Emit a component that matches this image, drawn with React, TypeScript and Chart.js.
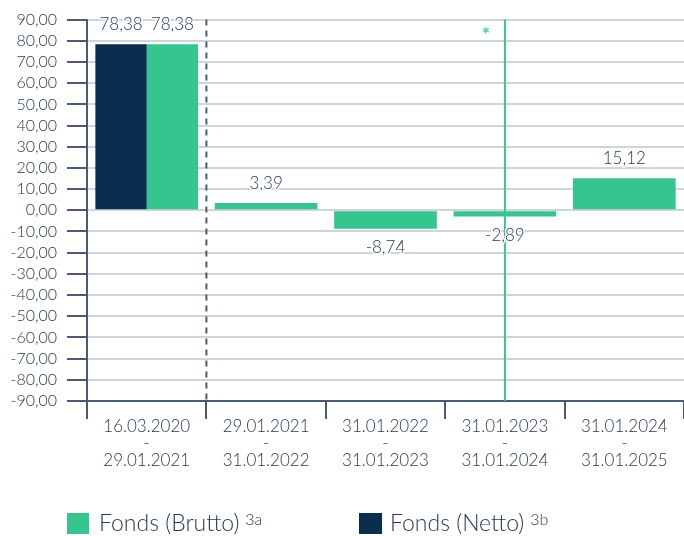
import React, { useEffect, useRef } from "react";
import { Chart, registerables } from "chart.js";

Chart.register(...registerables);

const categories: string[][] = [
  ["16.03.2020", "-", "29.01.2021"],
  ["29.01.2021", "-", "31.01.2022"],
  ["31.01.2022", "-", "31.01.2023"],
  ["31.01.2023", "-", "31.01.2024"],
  ["31.01.2024", "-", "31.01.2025"],
];
const bruttoValues: (number | null)[] = [78.38, 3.39, -8.74, -2.89, 15.12];
const nettoValues: (number | null)[] = [78.38, null, null, null, null];
const bruttoLabel = "Fonds (Brutto)";
const bruttoSup = "3a";
const nettoLabel = "Fonds (Netto)";
const nettoSup = "3b";
const yMin = -90;
const yMax = 90;
const yStep = 10;
const dividerAfterIndex = 0;
const markerIndex = 3;
const markerText = "*";

const GREEN = "#36c48f";
const NAVY = "#0b2d4e";
const TEXT = "#263955";
const AXIS = "#4b5b73";
const GRID = "#cfd5dc";
const FONT = "Lato, 'Open Sans', sans-serif";
const WEIGHT = "300";

const CANVAS_W = 684;
const CANVAS_H = 500;

const fmt = (v: number) => v.toFixed(2).replace(".", ",");

const overlayPlugin = {
  id: "overlay",
  afterDatasetsDraw(chart: any) {
    const { ctx, chartArea, scales } = chart;
    const xs = scales.x;
    ctx.save();
    const xd = (xs.getPixelForValue(dividerAfterIndex) + xs.getPixelForValue(dividerAfterIndex + 1)) / 2;
    ctx.strokeStyle = AXIS;
    ctx.lineWidth = 2;
    ctx.setLineDash([6, 5]);
    ctx.beginPath();
    ctx.moveTo(xd, chartArea.top);
    ctx.lineTo(xd, chartArea.bottom);
    ctx.stroke();
    ctx.setLineDash([]);
    const xm = xs.getPixelForValue(markerIndex);
    ctx.strokeStyle = GREEN;
    ctx.lineWidth = 2;
    ctx.beginPath();
    ctx.moveTo(xm, chartArea.top);
    ctx.lineTo(xm, chartArea.bottom);
    ctx.stroke();
    ctx.fillStyle = GREEN;
    ctx.font = `22px ${FONT}`;
    ctx.textAlign = "center";
    ctx.textBaseline = "middle";
    ctx.fillText(markerText, xm - 19, chartArea.top + 16);

    ctx.font = `${WEIGHT} 17px ${FONT}`;
    ctx.lineJoin = "round";
    chart.data.datasets.forEach((ds: any, di: number) => {
      const meta = chart.getDatasetMeta(di);
      meta.data.forEach((el: any, i: number) => {
        const v = ds.data[i];
        if (v === null || v === undefined) return;
        const y = v >= 0 ? el.y - 20 : el.y + 19;
        const t = fmt(v);
        ctx.strokeStyle = "#ffffff";
        ctx.lineWidth = 3;
        ctx.strokeText(t, el.x, y);
        ctx.fillStyle = TEXT;
        ctx.fillText(t, el.x, y);
      });
    });
    ctx.restore();
  },
};

export default function App() {
  const ref = useRef<HTMLCanvasElement | null>(null);

  useEffect(() => {
    if (!ref.current) return;
    const chart = new Chart(ref.current, {
      type: "bar",
      data: {
        labels: categories,
        datasets: [
          {
            label: nettoLabel,
            data: nettoValues,
            backgroundColor: NAVY,
            skipNull: true,
            categoryPercentage: 0.86,
            barPercentage: 1,
          } as any,
          {
            label: bruttoLabel,
            data: bruttoValues,
            backgroundColor: GREEN,
            skipNull: true,
            categoryPercentage: 0.86,
            barPercentage: 1,
          } as any,
        ],
      },
      options: {
        responsive: false,
        animation: false,
        layout: { padding: { top: 17, right: 0, left: 0, bottom: 0 } },
        plugins: {
          legend: { display: false },
          tooltip: { enabled: false },
        },
        scales: {
          x: {
            offset: true,
            grid: {
              offset: true,
              drawOnChartArea: false,
              drawTicks: true,
              tickLength: 18,
              tickColor: AXIS,
              lineWidth: 2,
              color: AXIS,
            },
            border: { display: true, color: AXIS, width: 2 },
            ticks: {
              color: TEXT,
              font: { family: FONT, size: 17, weight: WEIGHT, lineHeight: 1.0 },
              padding: -1,
              maxRotation: 0,
              autoSkip: false,
            },
            afterFit: (s: any) => {
              s.height = CANVAS_H - 401;
            },
          },
          y: {
            min: yMin,
            max: yMax,
            grid: {
              color: GRID,
              lineWidth: 2,
              tickLength: 20,
              tickColor: AXIS,
            },
            border: { display: true, color: AXIS, width: 2 },
            ticks: {
              stepSize: yStep,
              autoSkip: false,
              color: TEXT,
              font: { family: FONT, size: 16, weight: WEIGHT },
              padding: 10,
              callback: (v: any) => fmt(Number(v)),
            },
            afterFit: (s: any) => {
              s.width = 87;
            },
          },
        },
      } as any,
      plugins: [overlayPlugin],
    });
    return () => chart.destroy();
  }, []);

  const legendText: React.CSSProperties = {
    position: "absolute",
    top: 508,
    fontFamily: FONT,
    fontWeight: 300,
    fontSize: 23,
    color: TEXT,
    lineHeight: "29px",
    whiteSpace: "nowrap",
  };
  const sup: React.CSSProperties = { fontSize: 16, verticalAlign: "top", position: "relative", top: -4, marginLeft: 6 };

  return (
    <div style={{ position: "fixed", left: 0, top: 0, width: CANVAS_W, height: 536, background: "#fff" }}>
      <canvas ref={ref} width={CANVAS_W} height={CANVAS_H} style={{ position: "absolute", left: 0, top: 0 }} />
      <div style={{ position: "absolute", left: 67, top: 513, width: 22, height: 21, background: GREEN }} />
      <div style={{ ...legendText, left: 99 }}>
        {bruttoLabel}
        <span style={sup}>{bruttoSup}</span>
      </div>
      <div style={{ position: "absolute", left: 359, top: 513, width: 23, height: 21, background: NAVY }} />
      <div style={{ ...legendText, left: 390 }}>
        {nettoLabel}
        <span style={sup}>{nettoSup}</span>
      </div>
    </div>
  );
}
